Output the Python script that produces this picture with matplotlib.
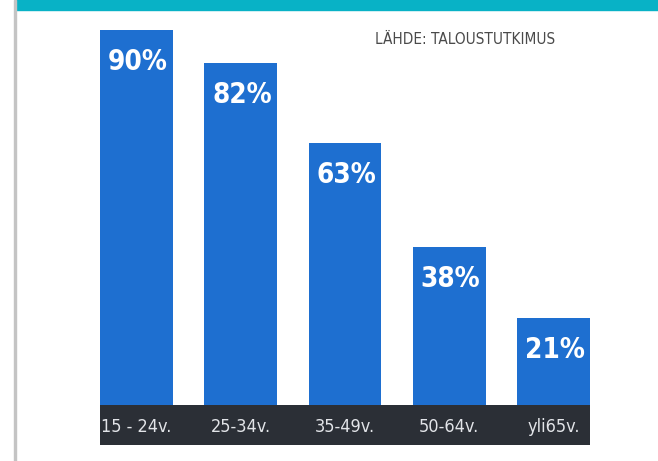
import matplotlib.pyplot as plt
from matplotlib.patches import Rectangle

# data
groups = ['15 - 24v.', '25-34v.', '35-49v.', '50-64v.', 'yli65v.']
shares = [90, 82, 63, 38, 21]
source = 'LÄHDE: TALOUSTUTKIMUS'

font = ['DejaVu Sans']
bar_color = '#1e6fd0'
band_color = '#2b2f36'

W, H = 658, 461
fig = plt.figure(figsize=(W / 100, H / 100), dpi=100)
fig.patch.set_facecolor('white')

# teal strip at the top and grey rule at the left
fig.patches.append(Rectangle((16 / W, 1 - 10 / H), 1, 10 / H, transform=fig.transFigure,
                             color='#08b2c6', zorder=0))
fig.patches.append(Rectangle((14 / W, 0), 2 / W, 1, transform=fig.transFigure,
                             color='#c4c4c4', zorder=0))

# main bars
ax = fig.add_axes([100 / W, (H - 405) / H, 490 / W, 375 / H])
x = range(len(groups))
ax.bar(x, shares, width=0.70, color=bar_color)
ax.set_xlim(-0.35, len(groups) - 0.65)
ax.set_ylim(0, max(shares))
ax.axis('off')

for i, v in enumerate(shares):
    ax.annotate(f'{v}%', (i, v), xytext=(1, -13), textcoords='offset points',
                ha='center', va='top', color='white', fontsize=20,
                fontweight='bold', fontstretch='condensed', family=font)

# dark label strip under the bars
lab = fig.add_axes([100 / W, (H - 445) / H, 490 / W, 40 / H])
lab.set_xlim(ax.get_xlim())
lab.set_ylim(0, 1)
lab.set_facecolor(band_color)
lab.set_xticks([])
lab.set_yticks([])
for s in lab.spines.values():
    s.set_visible(False)
for i, g in enumerate(groups):
    lab.text(i, 0.45, g, ha='center', va='center', color='#e2e4e8',
             fontsize=13, fontstretch='condensed', family=font)

fig.text(465 / W, 1 - 39 / H, source, ha='center', va='center',
         color='#4a4a4a', fontsize=11, fontstretch='condensed', family=font)

fig.savefig('out.png', dpi=100)
